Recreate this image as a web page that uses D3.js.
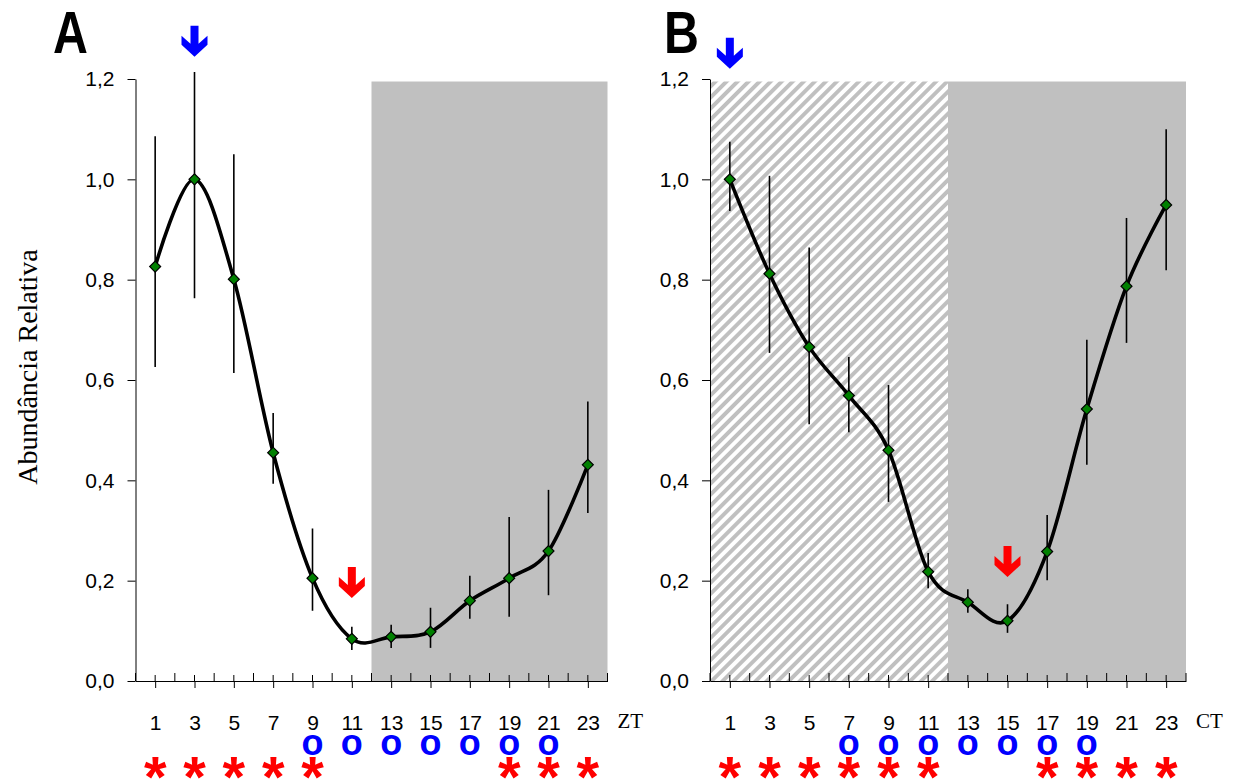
<!DOCTYPE html>
<html>
<head>
<meta charset="utf-8">
<script src="https://cdn.jsdelivr.net/npm/d3@7"></script>
<style>
  html, body { margin: 0; padding: 0; background: #fff; }
  svg { display: block; }
</style>
</head>
<body>
<svg id="chart" width="1233" height="782"></svg>
<script>
// ---------------- DATA ----------------
const hours = [1, 3, 5, 7, 9, 11, 13, 15, 17, 19, 21, 23];
const xTickLabels = ["1", "3", "5", "7", "9", "11", "13", "15", "17", "19", "21", "23"];
const minorHours = [0, 2, 4, 6, 8, 10, 12, 14, 16, 18, 20, 22, 24];
const yTicks = [0, 0.2, 0.4, 0.6, 0.8, 1.0, 1.2];
const yTickLabels = ["0,0", "0,2", "0,4", "0,6", "0,8", "1,0", "1,2"];

// Panel A (ZT)
const meanA = [0.826, 1.000, 0.801, 0.455, 0.205, 0.084, 0.088, 0.098, 0.160, 0.205, 0.259, 0.431];
const highA = [1.086, 1.214, 1.050, 0.534, 0.304, 0.108, 0.112, 0.146, 0.210, 0.327, 0.381, 0.557];
const lowA  = [0.626, 0.763, 0.614, 0.393, 0.140, 0.062, 0.066, 0.066, 0.124, 0.128, 0.171, 0.335];
const circlesA = [9, 11, 13, 15, 17, 19, 21];
const starsA = [1, 3, 5, 7, 9, 19, 21, 23];
const blueArrowA = { hour: 3, value: 1.306 };
const redArrowA = { hour: 11, value: 0.227 };

// Panel B (CT)
const meanB = [1.000, 0.812, 0.666, 0.569, 0.460, 0.218, 0.157, 0.120, 0.258, 0.542, 0.787, 0.949];
const highB = [1.075, 1.007, 0.864, 0.646, 0.590, 0.255, 0.183, 0.153, 0.331, 0.680, 0.923, 1.100];
const lowB  = [0.937, 0.654, 0.512, 0.496, 0.357, 0.185, 0.136, 0.096, 0.201, 0.431, 0.674, 0.819];
const circlesB = [7, 9, 11, 13, 15, 17, 19];
const starsB = [1, 3, 5, 7, 9, 11, 17, 19, 21, 23];
const blueArrowB = { hour: 1, value: 1.282 };
const redArrowB = { hour: 15, value: 0.269 };

// ---------------- DRAW ----------------
const svg = d3.select("#chart");
const defs = svg.append("defs");
const pat = defs.append("pattern")
  .attr("id", "hatch")
  .attr("patternUnits", "userSpaceOnUse")
  .attr("width", 7.8).attr("height", 7.8)
  .attr("patternTransform", "rotate(45)");
pat.append("rect").attr("width", 7.8).attr("height", 7.8).attr("fill", "#ffffff");
pat.append("rect").attr("width", 3.9).attr("height", 7.8).attr("fill", "#c0c0c0");

const y = d3.scaleLinear().domain([0, 1.2]).range([681, 79]);

function arrowPath(cx, top, color, g) {
  // bold downward arrow, 26 wide x 31 tall
  const pts = [[-4, 0], [4, 0], [4, 18], [13, 10], [13, 19], [0, 31], [-13, 19], [-13, 10], [-4, 18]];
  g.append("polygon")
    .attr("points", pts.map(p => [cx + p[0], top + p[1]].join(",")).join(" "))
    .attr("fill", color);
}

function drawPanel(cfg) {
  const g = svg.append("g");
  const x = d3.scaleLinear().domain([0, 24]).range(cfg.xRange);

  // backgrounds
  if (cfg.hatch) {
    g.append("rect")
      .attr("x", x(0)).attr("y", y(1.195))
      .attr("width", x(12) - x(0)).attr("height", y(0) - y(1.195))
      .attr("fill", "url(#hatch)");
  }
  g.append("rect")
    .attr("x", x(12)).attr("y", y(1.195))
    .attr("width", x(24) - x(12)).attr("height", y(0) - y(1.195))
    .attr("fill", "#c0c0c0");

  // y axis
  const yAxis = d3.axisLeft(y)
    .tickValues(yTicks)
    .tickFormat((d, i) => yTickLabels[i])
    .tickSize(8).tickSizeOuter(0).tickPadding(13);
  const ya = g.append("g").attr("transform", `translate(${x(0)},0)`).call(yAxis);
  ya.selectAll("text").attr("font-family", "Liberation Sans, Arial, sans-serif")
    .attr("font-size", 21).attr("fill", "#000");
  ya.selectAll("line, path").attr("stroke", "#000");

  // x axis
  const xAxis = d3.axisBottom(x)
    .tickValues(hours)
    .tickFormat((d, i) => xTickLabels[i])
    .tickSize(7).tickSizeOuter(0).tickPadding(27);
  const xa = g.append("g").attr("transform", `translate(0,${y(0)})`).call(xAxis);
  xa.selectAll("text").attr("font-family", "Liberation Sans, Arial, sans-serif")
    .attr("font-size", 21).attr("fill", "#000");
  xa.selectAll("line, path").attr("stroke", "#000");
  // upper part of major ticks
  g.append("g").selectAll("line").data(hours).join("line")
    .attr("x1", d => x(d)).attr("x2", d => x(d))
    .attr("y1", y(0)).attr("y2", y(0) - 6)
    .attr("stroke", "#000");
  // minor ticks (inside)
  g.append("g").selectAll("line").data(minorHours).join("line")
    .attr("x1", d => x(d)).attr("x2", d => x(d))
    .attr("y1", y(0)).attr("y2", y(0) - 8)
    .attr("stroke", "#000");

  // unit label
  g.append("text")
    .attr("x", x(24) + 10).attr("y", 728)
    .attr("font-family", "Liberation Serif, Times New Roman, serif")
    .attr("font-size", 21)
    .text(cfg.unit);

  // error bars
  g.append("g").selectAll("line").data(hours).join("line")
    .attr("x1", d => x(d)).attr("x2", d => x(d))
    .attr("y1", (d, i) => y(cfg.high[i])).attr("y2", (d, i) => y(cfg.low[i]))
    .attr("stroke", "#000").attr("stroke-width", 1.6);

  // smooth curve
  const line = d3.line()
    .x((d, i) => x(hours[i]))
    .y(d => y(d))
    .curve(d3.curveCardinal.tension(0));
  g.append("path").datum(cfg.mean)
    .attr("d", line)
    .attr("fill", "none").attr("stroke", "#000").attr("stroke-width", 3.6)
    .attr("stroke-linejoin", "round");

  // markers
  const sym = d3.symbol().type(d3.symbolSquare).size(60);
  g.append("g").selectAll("path").data(cfg.mean).join("path")
    .attr("d", sym)
    .attr("transform", (d, i) => `translate(${x(hours[i])},${y(d)}) rotate(45)`)
    .attr("fill", "#008000").attr("stroke", "#000").attr("stroke-width", 1.2);

  // arrows
  arrowPath(x(cfg.blueArrow.hour), y(cfg.blueArrow.value), "#0000ff", g);
  arrowPath(x(cfg.redArrow.hour), y(cfg.redArrow.value), "#ff0000", g);

  // significance markers
  g.append("g").selectAll("text").data(cfg.circles).join("text")
    .attr("x", d => x(d)).attr("y", 755)
    .attr("text-anchor", "middle")
    .attr("font-family", "Liberation Sans, Arial, sans-serif")
    .attr("font-weight", "bold").attr("font-size", 36)
    .attr("fill", "#0000ff")
    .text("o");
  g.append("g").selectAll("text").data(cfg.stars).join("text")
    .attr("x", d => x(d)).attr("y", 797)
    .attr("text-anchor", "middle")
    .attr("font-family", "Liberation Sans, Arial, sans-serif")
    .attr("font-weight", "bold").attr("font-size", 58)
    .attr("fill", "#ff0000")
    .text("*");

  // panel letter
  g.append("text")
    .attr("transform", `translate(${cfg.letterX},53) scale(0.82,1)`)
    .attr("font-family", "Liberation Sans, Arial, sans-serif")
    .attr("font-weight", "bold").attr("font-size", 59)
    .text(cfg.letter);
}

drawPanel({
  xRange: [135.5, 607.5], hatch: false, unit: "ZT",
  mean: meanA, high: highA, low: lowA,
  circles: circlesA, stars: starsA,
  blueArrow: blueArrowA, redArrow: redArrowA,
  letter: "A", letterX: 53
});
drawPanel({
  xRange: [710, 1186], hatch: true, unit: "CT",
  mean: meanB, high: highB, low: lowB,
  circles: circlesB, stars: starsB,
  blueArrow: blueArrowB, redArrow: redArrowB,
  letter: "B", letterX: 664
});

// y-axis title
svg.append("text")
  .attr("transform", "translate(37,367) rotate(-90)")
  .attr("text-anchor", "middle")
  .attr("font-family", "Liberation Serif, Times New Roman, serif")
  .attr("font-size", 28)
  .text("Abundância Relativa");
</script>
</body>
</html>
